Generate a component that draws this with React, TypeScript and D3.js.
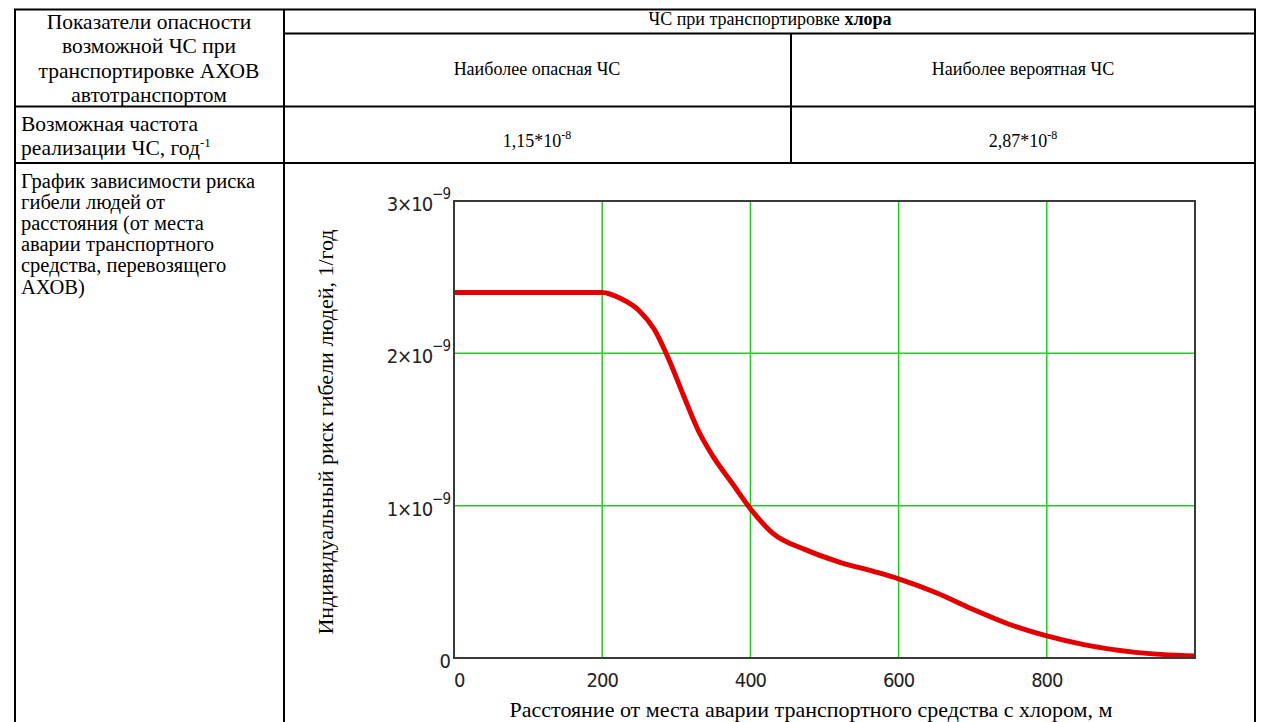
import React from 'react';
import * as d3 from 'd3';

// curve: distance, m -> individual risk, 1/year
const distance = [0, 100, 200, 225, 250, 270, 290, 310, 330, 350, 375, 400, 430, 475, 520, 565, 600, 650, 700, 750, 800, 850, 920, 1000];
const risk = [2.4, 2.4, 2.4, 2.36, 2.28, 2.16, 1.96, 1.72, 1.49, 1.32, 1.15, 0.98, 0.82, 0.71, 0.63, 0.57, 0.52, 0.43, 0.32, 0.22, 0.145, 0.088, 0.037, 0.013].map(v => v * 1e-9);

const xTicks = [0, 200, 400, 600, 800];
const yTicks = [0, 1e-9, 2e-9, 3e-9];
const yTickBase = ['0', '1×10', '2×10', '3×10'];
const yTickExp = ['', '−9', '−9', '−9'];

const headerLeft = ['Показатели опасности', 'возможной ЧС при', 'транспортировке АХОВ', 'автотранспортом'];
const freqLeft = ['Возможная частота', 'реализации ЧС, год'];
const graphLeft = ['График зависимости риска', 'гибели людей от', 'расстояния (от места', 'аварии транспортного', 'средства, перевозящего', 'АХОВ)'];
const scenarios = ['Наиболее опасная ЧС', 'Наиболее вероятная ЧС'];
const freqMantissa = ['1,15*10', '2,87*10'];
const freqExp = ['-8', '-8'];

const serif = '"Liberation Serif", "Times New Roman", serif';
const narrow = '"Liberation Sans Narrow", "DejaVu Sans Condensed", "Arial Narrow", sans-serif';

export default function App() {
  const W = 1269, H = 722;
  const x = d3.scaleLinear().domain([0, 1000]).range([454, 1195]);
  const y = d3.scaleLinear().domain([0, 3e-9]).range([658, 201]);

  const pts = distance.map((d, i) => [d, risk[i]] as [number, number]);
  const path = d3.line<[number, number]>()
    .x(d => x(d[0]))
    .y(d => y(d[1]))
    .curve(d3.curveMonotoneX)(pts) || '';

  const [x0, x1] = x.range();
  const [y0, y1] = y.range();
  const colX = [537, 1023];

  return (
    <svg width={W} height={H} style={{ position: 'absolute', left: 0, top: 0, background: '#fff' }}>
      <rect width={W} height={H} fill="#fff" />

      {/* table */}
      <g stroke="#000" strokeWidth={2}>
        <line x1={14} x2={1256} y1={9.5} y2={9.5} />
        <line x1={15} x2={15} y1={9} y2={H} />
        <line x1={1255} x2={1255} y1={9} y2={H} />
        <line x1={284} x2={284} y1={9} y2={H} />
        <line x1={284} x2={1255} y1={33.5} y2={33.5} />
        <line x1={15} x2={1255} y1={106.5} y2={106.5} />
        <line x1={791} x2={791} y1={33.5} y2={163} />
        <line x1={15} x2={1255} y1={163} y2={163} />
      </g>

      <g fontFamily={serif} fontSize={21.5} fill="#000">
        {headerLeft.map((t, i) => (
          <text key={t} x={149} y={29 + i * 24.3} textAnchor="middle">{t}</text>
        ))}
        <text x={21} y={131}>{freqLeft[0]}</text>
        <text x={21} y={155}>{freqLeft[1]}<tspan fontSize={13} dy={-8}>-1</tspan></text>
      </g>
      <g fontFamily={serif} fontSize={20.5} fill="#000">
        {graphLeft.map((t, i) => (
          <text key={t} x={21} y={187.5 + i * 21.2}>{t}</text>
        ))}
      </g>

      <g fontFamily={serif} fontSize={18} fill="#000" textAnchor="middle">
        <text x={770} y={25}>ЧС при транспортировке <tspan fontWeight="bold">хлора</tspan></text>
        {scenarios.map((t, i) => (
          <text key={t} x={colX[i]} y={75}>{t}</text>
        ))}
        {freqMantissa.map((t, i) => (
          <text key={t} x={colX[i]} y={147}>{t}<tspan fontSize={12} dy={-8}>{freqExp[i]}</tspan></text>
        ))}
      </g>

      {/* plot */}
      <g stroke="#22cc22" strokeWidth={1.5}>
        {xTicks.filter(t => t > 0).map(t => (
          <line key={t} x1={x(t)} x2={x(t)} y1={y1} y2={y0} />
        ))}
        {yTicks.filter(t => t > 0 && t < 3e-9).map(t => (
          <line key={t} x1={x0} x2={x1} y1={y(t)} y2={y(t)} />
        ))}
      </g>
      <path d={path} fill="none" stroke="#e20000" strokeWidth={5} strokeLinejoin="round" />
      <rect x={x0} y={y1} width={x1 - x0} height={y0 - y1} fill="none" stroke="#3a3a3a" strokeWidth={2} />

      <g fontFamily={narrow} fontSize={20} letterSpacing={-1} fill="#222">
        {yTicks.map((t, i) => (
          <text key={t} x={450} y={y(t) + 10} textAnchor="end">
            {yTickBase[i]}
            {yTickExp[i] && <tspan fontSize={15} dy={-12}>{yTickExp[i]}</tspan>}
          </text>
        ))}
        {xTicks.map(t => (
          <text key={t} x={x(t)} y={687} textAnchor={t === 0 ? 'start' : 'middle'}>{t}</text>
        ))}
      </g>

      <g fontFamily={serif} fontSize={22} fill="#000" textAnchor="middle">
        <text transform={`translate(333,432) rotate(-90)`}>Индивидуальный риск гибели людей, 1/год</text>
        <text x={811} y={717}>Расстояние от места аварии транспортного средства с хлором, м</text>
      </g>
    </svg>
  );
}
